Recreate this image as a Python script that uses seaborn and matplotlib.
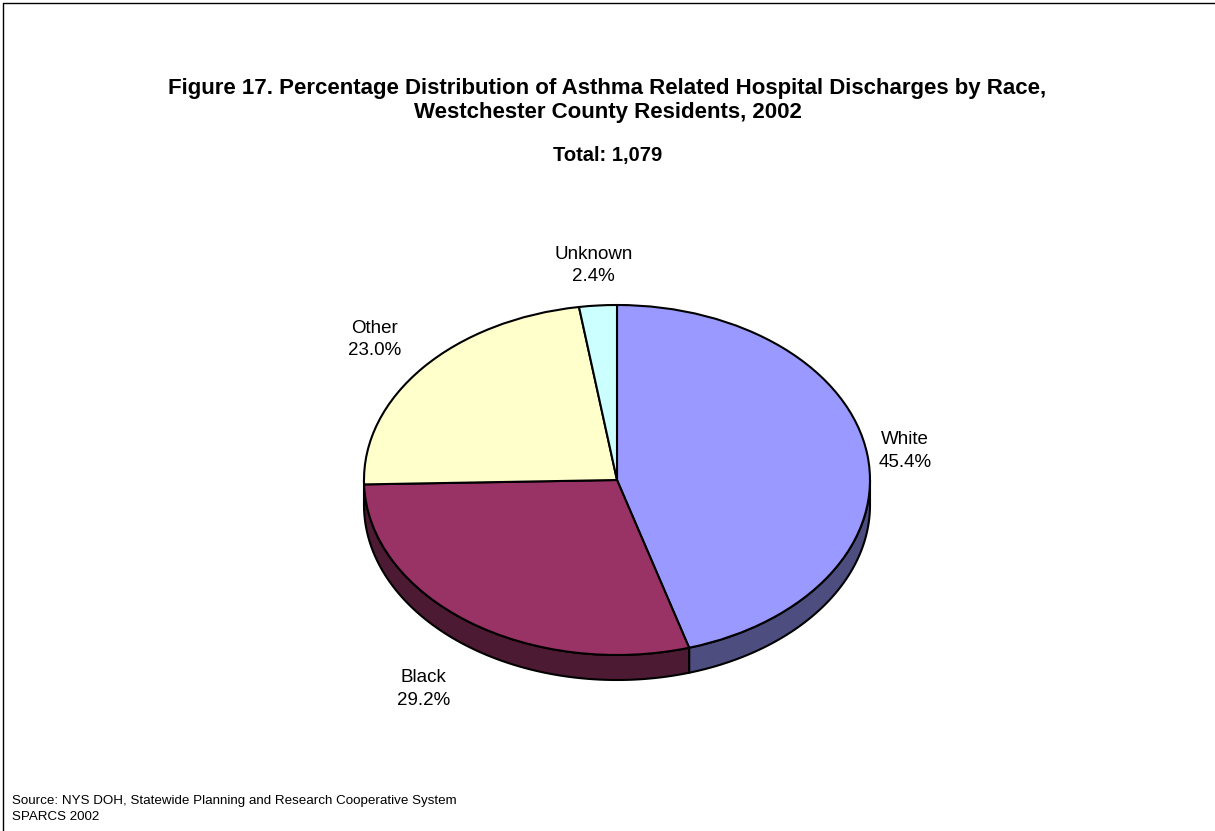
import numpy as np
import matplotlib
matplotlib.use("Agg")
import matplotlib.pyplot as plt
from matplotlib.lines import Line2D
import seaborn as sns

categories = ["White", "Black", "Other", "Unknown"]
percents = [45.4, 29.2, 23.0, 2.4]
total_text = "Total: 1,079"
top_colors = ["#9999FF", "#993366", "#FFFFCC", "#CCFFFF"]
side_colors = ["#4D4D80", "#4D1A33", "#80805F", "#668080"]

sns.set_theme(style="white")
plt.rcParams["font.family"] = ["Liberation Sans", "DejaVu Sans"]
plt.rcParams["text.color"] = "black"

W, H = 1215, 831
fig = plt.figure(figsize=(W / 100, H / 100), dpi=100)
ax = fig.add_axes([0, 0, 1, 1])

# pie geometry in pixels: centre, radii, depth of the 3d side
cx, cy, rx, ry, depth = 617, 480, 253, 175, 25
t = depth / ry

fracs = np.array(percents) / sum(percents)
edges = 90 - 360 * np.concatenate([[0], np.cumsum(fracs)])

# side walls (front half only)
for i in range(len(categories)):
    lo, hi = max(edges[i + 1], -180), min(edges[i], 0)
    if hi <= lo:
        continue
    th = np.radians(np.linspace(lo, hi, 120))
    xs, ys = np.cos(th), np.sin(th)
    ax.fill(np.concatenate([xs, xs[::-1]]),
            np.concatenate([ys, ys[::-1] - t]),
            facecolor=side_colors[i], edgecolor="black", linewidth=1.5,
            joinstyle="round")

ax.pie(percents, colors=top_colors, startangle=90, counterclock=False,
       radius=1, center=(0, 0),
       wedgeprops=dict(edgecolor="black", linewidth=1.5, joinstyle="round"))

ax.set_aspect("auto")
ax.set_xlim(-cx / rx, (W - cx) / rx)
ax.set_ylim((cy - H) / ry, cy / ry)
ax.axis("off")

# labels
label_r = [1.15, 1.3, 1.25, 1.23]
mids = np.radians((edges[:-1] + edges[1:]) / 2)
for name, p, m, r in zip(categories, percents, mids, label_r):
    x, y = r * np.cos(m), r * np.sin(m)
    if np.sin(m) < 0:
        y -= t
    ax.text(x, y, f"{name}\n{p:.1f}%", ha="center", va="center",
            fontsize=13.5, linespacing=1.4)

fig.text(0.5, 1 - 100.5 / H,
         "Figure 17. Percentage Distribution of Asthma Related Hospital Discharges by Race,\n"
         "Westchester County Residents, 2002",
         ha="center", va="center", fontsize=16, fontweight="bold", linespacing=1.22)
fig.text(0.5, 1 - 155 / H, total_text, ha="center", va="center",
         fontsize=14.5, fontweight="bold")
fig.text(12 / W, 1 - 809 / H,
         "Source: NYS DOH, Statewide Planning and Research Cooperative System\nSPARCS 2002",
         ha="left", va="center", fontsize=9.6, linespacing=1.5)

# chart frame: only top and left edges fall inside the picture
fig.add_artist(Line2D([3 / W, 3 / W], [0, 1 - 3 / H], transform=fig.transFigure,
                      color="black", linewidth=1))
fig.add_artist(Line2D([3 / W, 1], [1 - 3 / H, 1 - 3 / H], transform=fig.transFigure,
                      color="black", linewidth=1))

fig.savefig("out.png", dpi=100, facecolor="white")
